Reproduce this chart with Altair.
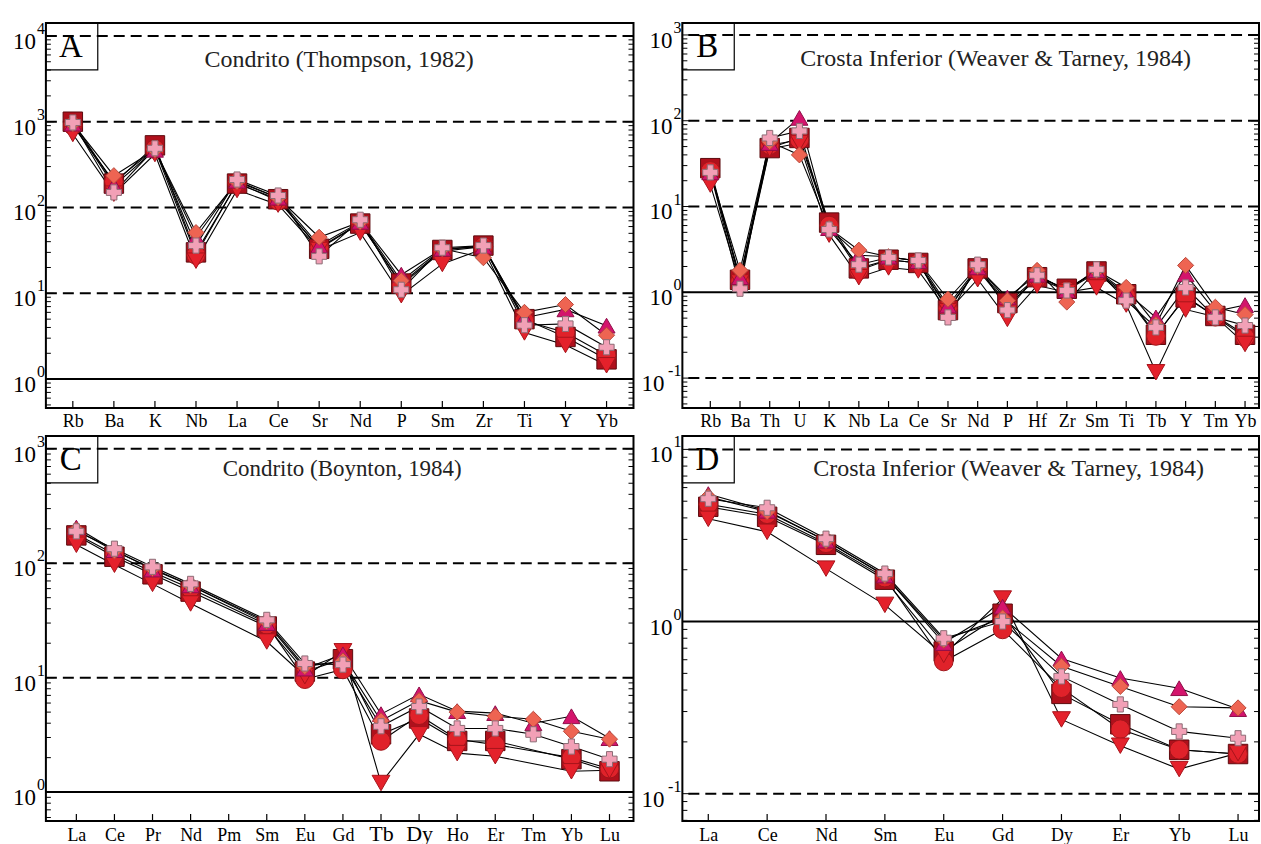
import math
import altair as alt
import pandas as pd

FONT = "Liberation Serif"

# Symbol styling for the six samples (same order in every panel)
SHAPES = ["square", "circle", "triangle-down", "triangle-up", "diamond", "cross"]
FILLS = ["#b0101c", "#e0222a", "#e4212b", "#d4146c", "#ee6452", "#f2a0b6"]
STROKES = ["#5c0a0e", "#a0161b", "#a8141b", "#8e0f48", "#b8473a", "#8d6b74"]
SIZES = [380, 230, 380, 380, 360, 520]

# --- A: chondrite-normalised spider diagram (Thompson, 1982)
A_CATS = ["Rb", "Ba", "K", "Nb", "La", "Ce", "Sr", "Nd", "P", "Sm", "Zr", "Ti", "Y", "Yb"]
A_SQUARE = [1000, 190, 530, 30, 190, 125, 33, 65, 13, 32, 36, 5.0, 3.1, 1.7]
A_CIRCLE = [900, 200, 480, 28, 195, 120, 34, 66, 12.5, 31, 35, 4.8, 3.5, 1.9]
A_TRIDOWN = [720, 145, 420, 24, 160, 108, 32, 51, 9.5, 22, 33, 3.5, 2.5, 1.45]
A_TRIUP = [950, 180, 470, 45, 205, 130, 36, 68, 16.5, 33, 35, 5.2, 6.5, 4.2]
A_DIAMOND = [950, 235, 470, 51, 200, 130, 45, 68, 14, 33, 26, 6.0, 7.4, 3.25]
A_CROSS = [980, 150, 490, 36, 212, 138, 27, 72, 11, 34, 36, 4.25, 4.4, 2.35]

# --- B: lower-crust-normalised spider diagram (Weaver & Tarney, 1984)
B_CATS = ["Rb", "Ba", "Th", "U", "K", "Nb", "La", "Ce", "Sr", "Nd", "P", "Hf", "Zr",
          "Sm", "Ti", "Tb", "Y", "Tm", "Yb"]
B_SQUARE = [28, 1.4, 48, 63, 6.5, 1.9, 2.4, 2.2, 0.62, 1.9, 0.75, 1.5, 1.1, 1.75, 0.95, 0.32, 0.87, 0.53, 0.32]
B_CIRCLE = [26, 1.35, 52, 60, 6.0, 1.8, 2.4, 2.2, 0.65, 1.85, 0.7, 1.45, 1.05, 1.7, 0.9, 0.31, 0.9, 0.52, 0.3]
B_TRIDOWN = [18, 1.3, 47, 55, 4.7, 1.5, 1.95, 1.8, 0.6, 1.42, 0.49, 1.2, 1.0, 1.14, 0.72, 0.117, 0.63, 0.52, 0.25]
B_TRIUP = [25, 1.5, 55, 108, 5.6, 2.7, 2.6, 2.3, 0.7, 1.95, 0.87, 1.6, 1.05, 1.8, 1.0, 0.51, 1.62, 0.6, 0.71]
B_DIAMOND = [25, 1.8, 57, 40, 5.6, 3.1, 2.6, 2.3, 0.83, 2.0, 0.8, 1.8, 0.77, 1.8, 1.14, 0.42, 2.06, 0.67, 0.55]
B_CROSS = [25, 1.1, 63, 76, 5.4, 2.1, 2.55, 2.35, 0.51, 2.1, 0.62, 1.58, 1.05, 1.85, 0.8, 0.39, 1.14, 0.51, 0.41]

# --- C: chondrite-normalised REE (Boynton, 1984); Pm not analysed
C_CATS = ["La", "Ce", "Pr", "Nd", "Pm", "Sm", "Eu", "Gd", "Tb", "Dy", "Ho", "Er", "Tm", "Yb", "Lu"]
C_SQUARE = [175, 114, 80, 56.5, None, 28, 11.3, 14.5, 3.2, 4.4, 2.8, 2.8, None, 1.94, 1.52]
C_CIRCLE = [180, 120, 84, 60, None, 29, 9.7, 11.8, 2.8, 4.7, 2.9, 2.6, None, 2.0, 1.6]
C_TRIDOWN = [145, 97, 66, 44.5, None, 20.7, 10.3, 17, 1.2, 3.2, 2.19, 2.06, None, 1.52, 1.55]
C_TRIUP = [205, 130, 88, 64, None, 30, 12, 16, 4.8, 7.15, 5.1, 4.9, 4.0, 4.6, 2.96]
C_DIAMOND = [195, 128, 90, 64, None, 31, 12.5, 14, 4.2, 6.3, 5.0, 4.6, 4.33, 3.4, 2.9]
C_CROSS = [190, 134, 93, 66, None, 32, 13.3, 13, 3.76, 5.6, 3.6, 3.6, 3.2, 2.5, 1.94]

# --- D: lower-crust-normalised REE (Weaver & Tarney, 1984)
D_CATS = ["La", "Ce", "Nd", "Sm", "Eu", "Gd", "Dy", "Er", "Yb", "Lu"]
D_SQUARE = [4.64, 4.06, 2.79, 1.75, 0.67, 1.11, 0.38, 0.253, 0.18, 0.17]
D_CIRCLE = [4.8, 4.2, 2.85, 1.8, 0.586, 0.9, 0.41, 0.237, 0.18, 0.17]
D_TRIDOWN = [3.95, 3.32, 2.03, 1.25, 0.64, 1.36, 0.27, 0.19, 0.139, 0.172]
D_TRIUP = [5.5, 4.4, 2.95, 1.85, 0.75, 1.22, 0.61, 0.47, 0.41, 0.31]
D_DIAMOND = [5.3, 4.35, 2.95, 1.85, 0.78, 1.05, 0.55, 0.42, 0.32, 0.315]
D_CROSS = [5.17, 4.58, 3.03, 1.9, 0.8, 1.0, 0.48, 0.33, 0.23, 0.21]


def panel(letter, title, title_size, title_xy, cats, series, y_exp, x_dom,
          width, height, big_labels=()):
    rows = []
    for shape, vals in zip(SHAPES, series):
        for i, v in enumerate(vals):
            if v is not None:
                rows.append({"shape": shape, "idx": i, "v": v})
    df = pd.DataFrame(rows)

    lo, hi = y_exp
    ysc = alt.Scale(type="log", domain=[10 ** lo, 10 ** hi], nice=False)
    xsc = alt.Scale(domain=list(x_dom), nice=False, zero=False)

    names = ",".join("'%s'" % c for c in cats)
    if big_labels:
        test = " || ".join("datum.value == %d" % cats.index(c) for c in big_labels)
        lab_size = {"condition": {"test": test, "value": 22}, "value": 18}
    else:
        lab_size = 18
    xaxis = alt.Axis(values=list(range(len(cats))), labelExpr="[%s][datum.value]" % names,
                     ticks=False, domain=False, grid=False, title=None,
                     labelFont=FONT, labelFontSize=lab_size, labelColor="black",
                     labelBaseline="alphabetic", labelPadding=19,
                     labelOverlap=False, labelFlush=False)
    X = alt.X("idx:Q", scale=xsc, axis=xaxis)
    Y = alt.Y("v:Q", scale=ysc, axis=None)

    # decade reference lines: solid at 10^0, dashed elsewhere
    decades = list(range(math.ceil(lo), math.floor(hi) + 1))
    dec_df = pd.DataFrame({"v": [10.0 ** d for d in decades],
                           "e": [str(d) for d in decades]})
    dashed = alt.Chart(dec_df[dec_df.e != "0"]).mark_rule(
        color="black", strokeWidth=2, strokeDash=[11, 6]).encode(y=Y)
    solid = alt.Chart(dec_df[dec_df.e == "0"]).mark_rule(
        color="black", strokeWidth=2).encode(y=Y)

    # inward ticks on both vertical edges
    minor = [k * 10.0 ** n for n in range(math.floor(lo), math.ceil(hi) + 1)
             for k in range(2, 10) if 10 ** lo <= k * 10.0 ** n <= 10 ** hi]
    minor_df = pd.DataFrame({"v": minor})
    ticks = []
    for src, ln in ((minor_df, 5), (dec_df, 8)):
        ticks.append(alt.Chart(src).mark_rule(color="black", strokeWidth=1).encode(
            y=Y, x=alt.value(0), x2=alt.value(ln)))
        ticks.append(alt.Chart(src).mark_rule(color="black", strokeWidth=1).encode(
            y=Y, x=alt.value(width - ln), x2=alt.value(width)))
    xt = alt.Chart(pd.DataFrame({"idx": list(range(len(cats)))})).mark_rule(
        color="black", strokeWidth=1.2).encode(
        x=X, y=alt.value(height - 7), y2=alt.value(height))

    # power-of-ten labels: "10" with a raised exponent ending at the frame
    pos = dec_df[~dec_df.e.str.startswith("-")]
    neg = dec_df[dec_df.e.str.startswith("-")]
    tens = []
    for src, off in ((pos, -10), (neg, -18)):
        if len(src):
            tens.append(alt.Chart(src).mark_text(
                align="right", baseline="middle", dy=6, font=FONT, fontSize=23,
                color="black").encode(x=alt.value(off), y=Y, text=alt.value("10")))
    expo = alt.Chart(dec_df).mark_text(
        align="right", baseline="middle", dy=-7, font=FONT, fontSize=16, color="black").encode(
        x=alt.value(-1), y=Y, text="e:N")

    lines = alt.Chart(df).mark_line(color="black", strokeWidth=1.1).encode(
        x=X, y=Y, detail="shape:N", order="idx:Q")
    pts = alt.Chart(df).mark_point(filled=True, opacity=1, strokeWidth=1).encode(
        x=X, y=Y,
        shape=alt.Shape("shape:N", scale=alt.Scale(domain=SHAPES, range=SHAPES), legend=None),
        fill=alt.Fill("shape:N", scale=alt.Scale(domain=SHAPES, range=FILLS), legend=None),
        stroke=alt.Stroke("shape:N", scale=alt.Scale(domain=SHAPES, range=STROKES), legend=None),
        size=alt.Size("shape:N", scale=alt.Scale(domain=SHAPES, range=SIZES), legend=None),
    )

    one = pd.DataFrame({"k": [0]})
    box = alt.Chart(one).mark_rect(fill="white", fillOpacity=0, stroke="black", strokeWidth=1.2).encode(
        x=alt.value(0), x2=alt.value(52), y=alt.value(0), y2=alt.value(47))
    let = alt.Chart(one).mark_text(font=FONT, fontSize=33, color="black",
                                   baseline="middle", align="center").encode(
        x=alt.value(25), y=alt.value(24), text=alt.value(letter))
    ttl = alt.Chart(one).mark_text(font=FONT, fontSize=title_size, color="#222222",
                                   baseline="middle", align="center").encode(
        x=alt.value(title_xy[0]), y=alt.value(title_xy[1]), text=alt.value(title))

    return alt.layer(dashed, solid, *ticks, xt, *tens, expo, lines, pts, box, let, ttl).properties(
        width=width, height=height)


pA = panel("A", "Condrito (Thompson, 1982)", 24, (294, 37), A_CATS,
           [A_SQUARE, A_CIRCLE, A_TRIDOWN, A_TRIUP, A_DIAMOND, A_CROSS],
           (-0.337, 4.151), (-0.656, 13.656), 589, 386)
pB = panel("B", "Crosta Inferior (Weaver & Tarney, 1984)", 24, (314, 36), B_CATS,
           [B_SQUARE, B_CIRCLE, B_TRIDOWN, B_TRIUP, B_DIAMOND, B_CROSS],
           (-1.349, 3.140), (-0.94, 18.47), 578, 386)
pC = panel("C", "Condrito (Boynton, 1984)", 23, (297, 33), C_CATS,
           [C_SQUARE, C_CIRCLE, C_TRIDOWN, C_TRIUP, C_DIAMOND, C_CROSS],
           (-0.253, 3.112), (-0.80, 14.63), 589, 386, big_labels=("Tb", "Dy"))
pD = panel("D", "Crosta Inferior (Weaver & Tarney, 1984)", 24, (327, 33), D_CATS,
           [D_SQUARE, D_CIRCLE, D_TRIDOWN, D_TRIUP, D_DIAMOND, D_CROSS],
           (-1.159, 1.078), (-0.44, 9.356), 578, 386)

chart = alt.concat(pA, pB, pC, pD, columns=2, spacing={"row": 28, "column": 49},
                   bounds="flush").configure_view(
    stroke="black", strokeWidth=2).properties(
    padding={"left": 12, "top": 18, "right": 0, "bottom": 0}, background="white")

chart.save("out.html", embed_options={"renderer": "svg", "actions": False})
